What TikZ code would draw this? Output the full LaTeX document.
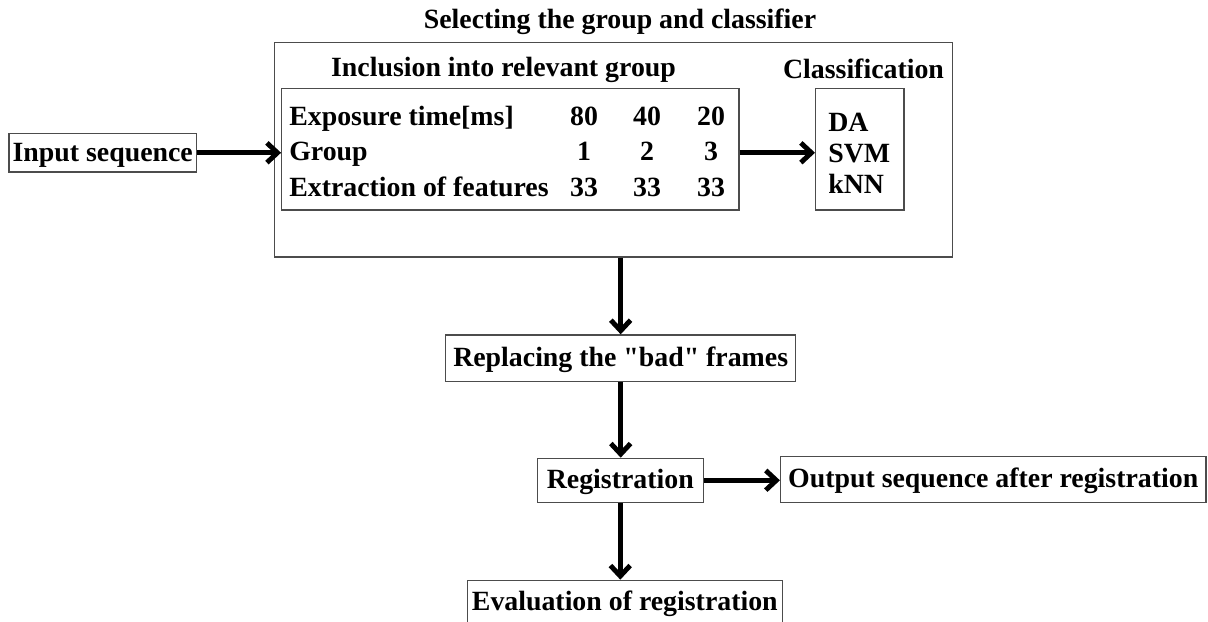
\documentclass[tikz,border=0pt]{standalone}
\usepackage{fontspec}
\setmainfont{Liberation Serif}[Ligatures=TeXOff]
\usetikzlibrary{arrows.meta}
\begin{document}
\begin{tikzpicture}[x=0.025cm,y=-0.025cm,
    every node/.style={font=\fontsize{19.8}{23}\selectfont\bfseries},
    box/.style={draw=black!70,line width=0.9pt,inner sep=0pt,text height=16pt,text depth=4pt},
    lbl/.style={inner sep=0pt,anchor=base west},
    num/.style={inner sep=0pt,anchor=base},
    flow/.style={line width=3.5pt,-{Straight Barb[length=7.5pt,width=14pt]}}]
  \useasboundingbox (0,0) rectangle (1208,621);
  % group and classifier block
  \node[num] (seltitle) at (620,28.3) {Selecting the group and classifier};
  \node[box,minimum width=16.94cm,minimum height=5.36cm] (select) at (613.25,149.85) {};
  \node[num] (incltitle) at (503.5,76.7) {Inclusion into relevant group};
  \node[num] (clstitle) at (863.5,78.3) {Classification};
  \node[box,minimum width=11.43cm,minimum height=3.03cm] (incl) at (510.35,149.35) {};
  \node[box,minimum width=2.21cm,minimum height=3.04cm] (cls) at (859.85,149.15) {};
  \foreach \y/\lab/\a/\b/\c [count=\i] in {125/Exposure time[ms]/80/40/20,160.5/Group/1/2/3,196/Extraction of features/33/33/33}
  {
    \node[lbl] (row\i) at (289,\y) {\lab};
    \node[num] (row\i-a) at (584,\y) {\a};
    \node[num] (row\i-b) at (647,\y) {\b};
    \node[num] (row\i-c) at (711,\y) {\c};
  }
  \foreach \y/\t [count=\i] in {131.7/DA,162.7/SVM,193/kNN}
    \node[lbl] (clf\i) at (828,\y) {\t};
  % flow boxes
  \node[box,minimum width=4.69cm,minimum height=0.96cm] (input) at (102.75,152.75) {Input sequence};
  \node[box,minimum width=8.75cm,minimum height=1.17cm] (repl) at (620.7,358.35) {Replacing the "bad" frames};
  \node[box,minimum width=4.15cm,minimum height=1.1cm] (reg) at (620.3,480.3) {Registration};
  \node[box,minimum width=10.63cm,minimum height=1.14cm] (out) at (993.2,479.5) {Output sequence after registration};
  \node[box,minimum width=7.88cm,minimum height=1.1cm] (eval) at (624.8,602.3) {Evaluation of registration};
  % arrows
  \draw[flow] (input.east) -- (input.east -| incl.west);
  \draw[flow] (incl.east |- input.east) -- (cls.west |- input.east);
  \draw[flow] (select.south -| repl.north) -- (repl.north);
  \draw[flow] (repl.south) -- (repl.south |- reg.north);
  \draw[flow] (reg.east) -- (reg.east -| out.west);
  \draw[flow] (reg.south) -- (reg.south |- eval.north);
\end{tikzpicture}
\end{document}
